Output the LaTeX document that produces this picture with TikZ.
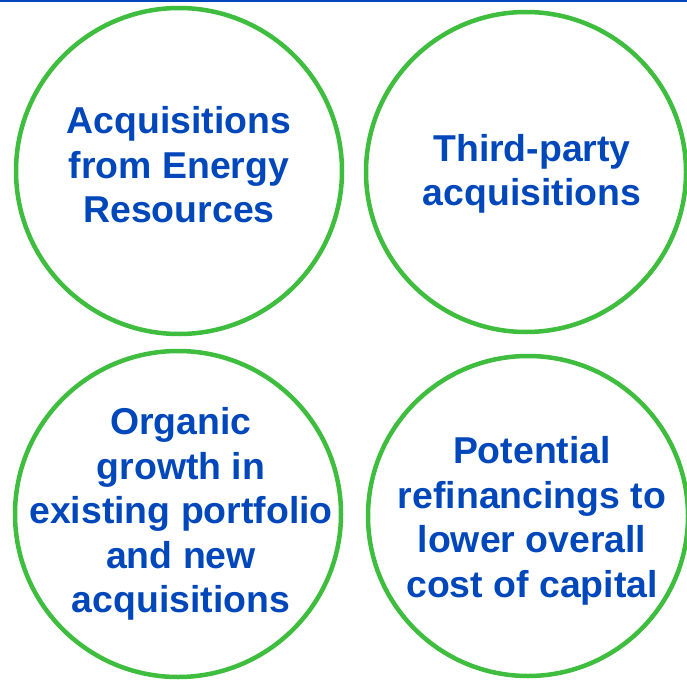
\documentclass[tikz,border=0pt]{standalone}
\usepackage{fontspec}
\setmainfont{Liberation Sans}

\definecolor{goalblue}{HTML}{0047BB}
\definecolor{ringgreen}{HTML}{3EBD3E}

\begin{document}
\begin{tikzpicture}[x=1pt,y=-1pt]
        \tikzset{ring/.style={circle,draw=ringgreen,line width=4.5pt,inner sep=0pt}}
        \tikzset{big/.style={ring,minimum size=326pt}}
        \tikzset{small/.style={ring,minimum size=320pt}}
        \tikzset{caption/.style={align=center,inner sep=0pt,text=goalblue,
            font=\fontsize{37.4}{44.5}\selectfont\bfseries}}

        \useasboundingbox (0,0) rectangle (687,679);
        \clip (0,0) rectangle (687,679);

        % rule along the top edge
        \draw[goalblue,line width=2pt] (0,1) -- (687,1);

        % the four rings
        \node[big] (energy) at (179,171) {};
        \node[small] (third) at (526,172) {};
        \node[big] (organic) at (178,514) {};
        \node[small] (refi) at (528,516) {};

        % their texts
        \node[caption] (energy-txt) at ([yshift=6pt]energy.center) {Acquisitions\\from Energy\\Resources};
        \node[caption] (third-txt) at ([xshift=6pt,yshift=-2pt]third.center) {Third-party\\acquisitions};
        \node[caption] (organic-txt) at ([xshift=3pt]organic.center) {Organic\\growth in\\existing portfolio\\and new\\acquisitions};
        \node[caption] (refi-txt) at ([xshift=4pt,yshift=-5pt]refi.center) {Potential\\refinancings to\\lower overall\\cost of capital};
\end{tikzpicture}
\end{document}
